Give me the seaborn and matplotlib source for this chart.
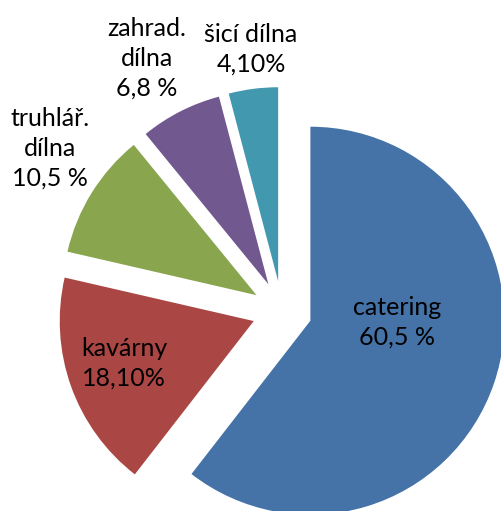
import matplotlib
matplotlib.use("Agg")
import matplotlib.pyplot as plt
import seaborn as sns

# data
labels = ["catering", "kavárny", "truhlář.\ndílna", "zahrad.\ndílna", "šicí dílna"]
values = [60.5, 18.1, 10.5, 6.8, 4.1]
value_text = ["60,5 %", "18,10%", "10,5 %", "6,8 %", "4,10%"]
colors = ["#4572A7", "#AA4643", "#89A54E", "#71588F", "#4198AF"]

# label anchors (pixel coords of the image, y from top)
label_pos = [(397, 322), (124, 363), (50, 148), (147, 58), (251, 49)]

sns.set_theme(style="white")
plt.rcParams["font.family"] = ["Lato", "DejaVu Sans"]

W, H = 502, 511
fig = plt.figure(figsize=(W / 100, H / 100), dpi=100)
ax = fig.add_axes([0, 0, 1, 1])

radius = 194
# explode is in data units here (pixels)
ax.pie(values, colors=colors, startangle=90, counterclock=False,
       explode=[30] * len(values), radius=radius, center=(282, H - 311),
       wedgeprops=dict(linewidth=0), frame=True)
ax.set_xlim(0, W)
ax.set_ylim(0, H)
ax.set_aspect("equal")
ax.axis("off")

for lab, val, (x, y) in zip(labels, value_text, label_pos):
    ax.text(x, H - y, f"{lab}\n{val}", ha="center", va="center",
            fontsize=18, color="black", linespacing=1.35)

fig.savefig("out.png", dpi=100)
